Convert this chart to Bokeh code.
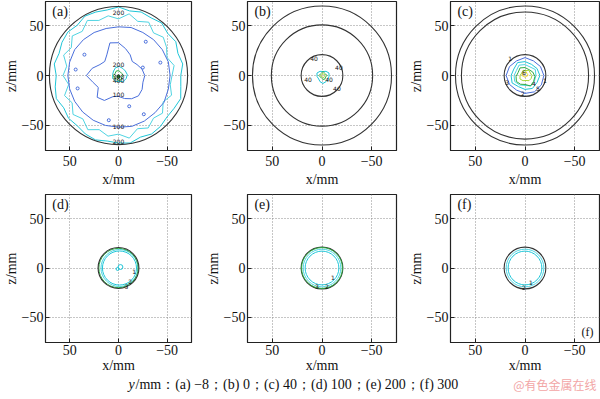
import numpy as np
from bokeh.plotting import figure
from bokeh.models import Range1d, FixedTicker
from bokeh.layouts import column, row
from bokeh.embed import file_html
from bokeh.resources import INLINE
from bokeh.core.properties import value

# ---------------- data ----------------
ticks = [-50, 0, 50]
tick_labels = {-50: "−50", 0: "0", 50: "50"}
panel_names = ["(a)", "(b)", "(c)", "(d)", "(e)", "(f)"]
x_title = "x/mm"
z_title = "z/mm"
footer_text = "/mm：(a) −8；(b) 0；(c) 40；(d) 100；(e) 200；(f) 300"
watermark = "@有色金属在线"

# wall / boundary circles (radius, mm)
walls = {
    "a": [71],
    "b": [70, 51, 21],
    "c": [70, 64, 21],
    "d": [21],
    "e": [21],
    "f": [21],
}

# angle grids (screen angle, degrees, 0 = right, counter-clockwise)
ang12 = [0, 30, 60, 90, 120, 150, 180, 210, 240, 270, 300, 330]
ang24 = [0, 15, 30, 45, 60, 75, 90, 105, 120, 135, 150, 165,
         180, 195, 210, 225, 240, 255, 270, 285, 300, 315, 330, 345]
ang36 = [0, 10, 20, 30, 40, 50, 60, 70, 80, 90, 100, 110,
         120, 130, 140, 150, 160, 170, 180, 190, 200, 210, 220, 230,
         240, 250, 260, 270, 280, 290, 300, 310, 320, 330, 340, 350]

# (a) y = -8 mm
a_band_outer = [64, 67, 65, 68, 66, 69, 67, 68, 66, 69, 67, 68, 69, 66, 68, 67, 65, 67,
                64, 66, 68, 65, 67, 66, 68, 69, 67, 68, 69, 66, 68, 67, 65, 66, 68, 65]
a_band_inner = [55, 58, 53, 57, 60, 56, 62, 58, 63, 57, 61, 59, 64, 58, 62, 56, 60, 54,
                57, 52, 59, 55, 61, 57, 63, 58, 62, 59, 64, 57, 61, 56, 59, 53, 58, 54]
a_ring100 = [53, 53, 52, 51, 50, 50, 49, 49, 50, 51, 52, 52,
             52, 52, 52, 52, 52, 52, 52, 53, 53, 53, 54, 53]
a_blob100 = [27, 25, 22, 20, 24, 28, 33, 34, 24, 20, 22, 28,
             33, 27, 24, 31, 29, 22, 21, 24, 27, 29, 28, 26]
a_core_cyan = [8, 7, 7, 8, 8, 7, 7, 8, 8, 7, 8, 8]
a_core_green = [5, 4, 4, 5, 5, 4, 5, 5, 4, 5, 5, 4]
a_spots_x = [-28, 35, -25, -43, 44, 42, -11, -26, 10]
a_spots_y = [34, 21, 8, 13, 6, -13, -31, -39, -45]
a_lab_txt = ["200", "200", "100", "100", "200", "300", "400"]
a_lab_x = [0, 0, 0, 0, 0, 0, 0]
a_lab_y = [63, -66, -51, -19, 11, -1, -5]

# (b) y = 0 mm
b_core_cyan = [6, 7, 6, 5, 6, 7, 6, 5, 6, 7, 6, 6]
b_core_green = [4, 3, 3, 4, 3, 3, 4, 3, 3, 4, 4, 3]
b_core_yg = [2, 2, 1.5, 2, 2, 1.5, 2, 2, 1.5, 2, 2, 2]
b_lab_txt = ["40", "40", "40", "40", "40"]
b_lab_x = [8, -17, 14, -15, -7]
b_lab_y = [17, 8, -4, -13, -4]

# (c) y = 40 mm
c_lvl1 = [19, 18, 17, 18, 17, 18, 19, 18, 17, 18, 19, 19]
c_lvl2 = [15, 14, 13, 14, 15, 13, 14, 15, 13, 14, 15, 14]
c_lvl3 = [11, 12, 10, 11, 12, 10, 11, 12, 11, 10, 12, 11]
c_lvl4 = [10, 9, 8, 9, 10, 8, 9, 10, 9, 8, 11, 10]
c_lvl5 = [6, 5, 6, 5, 6, 5, 6, 7, 6, 5, 6, 6]
c_lvl6 = [3, 2, 3, 2, 3, 2, 3, 3, 2, 3, 2, 3]
c_lab_txt = ["1", "1", "2", "3", "4", "5", "6"]
c_lab_x = [-20, 15, 2, 18, -9, -13, 1]
c_lab_y = [-5, 17, -18, -7, -8, -13, 3]

# (d)-(f) y = 100, 200, 300 mm: near-wall rings (radius, mm)
d_rings = [17.5, 19.0]
e_rings = [17.0, 19.0]
f_rings = [17.0, 19.0]
d_loops_x = [-2, 1]
d_loops_y = [1, -1]
d_loops_r = [2.5, 1.5]
d_lab_txt = ["1", "2", "3"]
d_lab_x = [-16, -12, -8]
d_lab_y = [-4, -14, -19]
e_lab_txt = ["1", "2", "3"]
e_lab_x = [-11, -5, 5]
e_lab_y = [-10, -19, -19]
f_lab_txt = ["1", "2"]
f_lab_x = [-6, 1]
f_lab_y = [-15, -20]

# ---------------- style ----------------
SERIF = "Liberation Serif"
WALL = "#333333"
BLUE = "#4a6fdc"
CYAN = "#1fc6d8"
LCYAN = "#4fd4e2"
GREEN = "#2fae45"
YGREEN = "#a6d63a"
YELLOW = "#eed62a"
DGREEN = "#1f6b2c"

FW = 149  # frame size (px)


def polar(ang, r, cx=0.0, cy=0.0):
    t = np.radians(np.asarray(list(ang) + [ang[0]], float))
    rr = np.asarray(list(r) + [r[0]], float)
    return (cx - rr * np.cos(t)).tolist(), (cy + rr * np.sin(t)).tolist()


def make_fig(name, h, top, bottom, left, right, tick_sd, label_sd):
    p = figure(width=left + FW + right, height=h,
               x_range=Range1d(75, -75), y_range=Range1d(-75.5, 74.5),
               output_backend="svg", toolbar_location=None,
               min_border_left=left, min_border_right=right,
               min_border_top=top, min_border_bottom=bottom,
               background_fill_color="white", border_fill_color="white")
    for ax in (p.xaxis[0], p.yaxis[0]):
        ax.ticker = FixedTicker(ticks=ticks)
        ax.major_label_overrides = tick_labels
        ax.major_label_text_font = SERIF
        ax.major_label_text_font_size = "14px"
        ax.major_label_text_color = "#111111"
        ax.major_tick_in = 4
        ax.major_tick_out = 0
        ax.minor_tick_line_color = None
        ax.axis_line_color = "#222222"
        ax.major_tick_line_color = "#222222"
        ax.axis_label_text_font = SERIF
        ax.axis_label_text_font_size = "14px"
        ax.axis_label_text_font_style = "normal"
        ax.axis_label_text_color = "#111111"
    p.yaxis.major_label_standoff = 2
    p.yaxis.axis_label_standoff = 0
    p.xaxis.major_label_standoff = tick_sd
    p.xaxis.axis_label_standoff = label_sd
    p.xaxis.axis_label = x_title
    p.yaxis.axis_label = z_title
    p.yaxis.major_label_orientation = "horizontal"
    p.grid.grid_line_color = "#8c8c8c"
    p.grid.grid_line_dash = "1 2"
    p.grid.grid_line_width = 1
    p.outline_line_color = "#222222"
    p.outline_line_width = 1.2
    p.text(x=[68], y=[64], text=[name], text_font=value(SERIF), text_font_size="14px",
           text_baseline="middle", text_align="left", text_color="#111111")
    return p


def walls_draw(p, radii, color=WALL):
    p.circle(x=[0] * len(radii), y=[0] * len(radii), radius=radii,
             fill_color=None, line_color=color, line_width=1.1)


def contour(p, ang, r, color, cx=0.0, cy=0.0, w=1.0):
    xs, ys = polar(ang, r, cx, cy)
    p.line(xs, ys, line_color=color, line_width=w)


def labels(p, xs, ys, txt, size="6px"):
    p.text(x=xs, y=ys, text=txt, text_font=value("DejaVu Sans"), text_font_size=size,
           text_align="center", text_baseline="middle", text_color="#111111")


# layout geometry: (left border, right border) per column
COLS = [(42, 6), (50, 7), (47, 1)]
TOP = dict(h=191, top=1, bottom=41, tick_sd=5, label_sd=3)
BOT = dict(h=184, top=3, bottom=32, tick_sd=2, label_sd=0)

# (a)
pa = make_fig(panel_names[0], left=COLS[0][0], right=COLS[0][1], **TOP)
contour(pa, ang36, a_band_outer, CYAN)
contour(pa, ang36, a_band_inner, LCYAN)
contour(pa, ang24, a_ring100, BLUE)
contour(pa, ang24, a_blob100, BLUE)
pa.scatter(a_spots_x, a_spots_y, size=3, marker="circle", fill_color=None, line_color=BLUE)
contour(pa, ang12, a_core_cyan, CYAN, cx=-1, cy=1)
contour(pa, ang12, a_core_green, GREEN, cx=0, cy=0)
pa.scatter([0], [-1], size=3, marker="circle", fill_color=DGREEN, line_color=DGREEN)
walls_draw(pa, walls["a"])
labels(pa, a_lab_x, a_lab_y, a_lab_txt)

# (b)
pb = make_fig(panel_names[1], left=COLS[1][0], right=COLS[1][1], **TOP)
walls_draw(pb, walls["b"])
contour(pb, ang12, b_core_cyan, CYAN, cx=-1, cy=-1)
contour(pb, ang12, b_core_green, GREEN, cx=-1, cy=0)
contour(pb, ang12, b_core_yg, YGREEN, cx=-1, cy=0)
labels(pb, b_lab_x, b_lab_y, b_lab_txt)

# (c)
pc = make_fig(panel_names[2], left=COLS[2][0], right=COLS[2][1], **TOP)
walls_draw(pc, walls["c"])
contour(pc, ang12, c_lvl1, BLUE)
contour(pc, ang12, c_lvl2, CYAN)
contour(pc, ang12, c_lvl3, LCYAN)
contour(pc, ang12, c_lvl4, GREEN, cx=0, cy=-1)
contour(pc, ang12, c_lvl5, YGREEN, cx=-1, cy=0)
contour(pc, ang12, c_lvl6, YELLOW, cx=0, cy=1)
labels(pc, c_lab_x, c_lab_y, c_lab_txt)

# (d)
pd_ = make_fig(panel_names[3], left=COLS[0][0], right=COLS[0][1], **BOT)
pd_.circle(x=[-1, -1], y=[0, 0], radius=d_rings, fill_color=None, line_color=[CYAN, LCYAN], line_width=1)
pd_.circle(x=[0], y=[0], radius=[20.2], fill_color=None, line_color=GREEN, line_width=1)
pd_.circle(x=d_loops_x, y=d_loops_y, radius=d_loops_r, fill_color=None, line_color=CYAN, line_width=1)
walls_draw(pd_, walls["d"])
labels(pd_, d_lab_x, d_lab_y, d_lab_txt)

# (e)
pe = make_fig(panel_names[4], left=COLS[1][0], right=COLS[1][1], **BOT)
pe.circle(x=[0, 0], y=[0, 0], radius=e_rings, fill_color=None, line_color=[CYAN, LCYAN], line_width=1)
walls_draw(pe, walls["e"])
pe.circle(x=[0], y=[0], radius=[20.6], fill_color=None, line_color=GREEN, line_width=1)
labels(pe, e_lab_x, e_lab_y, e_lab_txt)

# (f)
pf = make_fig(panel_names[5], left=COLS[2][0], right=COLS[2][1], **BOT)
pf.circle(x=[0, 0], y=[0, 0], radius=f_rings, fill_color=None, line_color=[CYAN, LCYAN], line_width=1)
walls_draw(pf, walls["f"])
labels(pf, f_lab_x, f_lab_y, f_lab_txt)
pf.text(x=[-63], y=[-65], text=["(f)"], text_font=value(SERIF), text_font_size="12px",
        text_align="center", text_baseline="middle", text_color="#111111")

# footer
FOOT_H = 24
foot = figure(width=600, height=FOOT_H, x_range=Range1d(0, 600), y_range=Range1d(FOOT_H, 0),
              output_backend="svg", toolbar_location=None, min_border=0,
              background_fill_color="white", border_fill_color="white")
foot.axis.visible = False
foot.grid.visible = False
foot.outline_line_color = None
foot.text(x=[128], y=[8.5], text=["y"], text_font=value(SERIF), text_font_style="italic",
          text_font_size="14px", text_baseline="middle", text_color="#111111")
foot.text(x=[135], y=[8.5], text=[footer_text], text_font=value(SERIF),
          text_font_size="14px", text_baseline="middle", text_color="#111111")
foot.text(x=[596], y=[8.5], text=[watermark], text_font=value("Noto Sans CJK SC"),
          text_font_size="12px", text_baseline="middle", text_align="right", text_color="#f2a6a6")

layout = column(row(pa, pb, pc), row(pd_, pe, pf), foot)
open("out.html", "w").write(file_html(layout, INLINE))
